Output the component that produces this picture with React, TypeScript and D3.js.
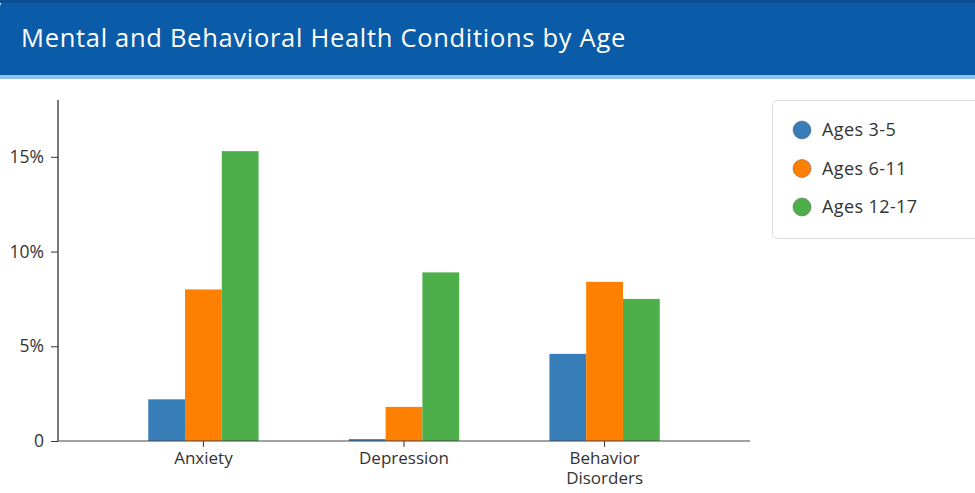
import React, { useEffect, useRef } from "react";
import * as d3 from "d3";

const categories = ["Anxiety", "Depression", "Behavior Disorders"];
const seriesNames = ["Ages 3-5", "Ages 6-11", "Ages 12-17"];
const ages3to5 = [2.2, 0.1, 4.6];
const ages6to11 = [8.0, 1.8, 8.4];
const ages12to17 = [15.3, 8.9, 7.5];
const yTicks = [0, 5, 10, 15];
const colors = ["#377eb8", "#ff7f00", "#4daf4a"];
const title = "Mental and Behavioral Health Conditions by Age";

export default function App() {
  const ref = useRef<SVGSVGElement>(null);
  useEffect(() => {
    const svg = d3.select(ref.current);
    svg.selectAll("*").remove();
    const W = 975, H = 493;
    const font = "'Open Sans', Lato, sans-serif";

    // header
    const hdr = svg.append("g");
    hdr.append("path")
      .attr("d", `M0,${8} Q0,0 8,0 L${W},0 L${W},75 L0,75 Z`)
      .attr("fill", "#0a5ba8");
    hdr.append("rect").attr("x", 0).attr("y", 0).attr("width", W).attr("height", 3).attr("fill", "#0b4f90");
    hdr.append("rect").attr("x", 0).attr("y", 75).attr("width", W).attr("height", 4).attr("fill", "#8fc1ec");
    hdr.append("text").attr("x", 21).attr("y", 47).attr("fill", "#fff")
      .attr("font-family", "'Open Sans', Lato, sans-serif").attr("font-size", 25.5).attr("font-weight", 400)
      .attr("letter-spacing", 0.7)
      .text(title);

    const left = 58, right = 750, top = 100, bottom = 441;
    const x0 = d3.scaleBand<string>().domain(categories).range([left, right]).paddingInner(0.45).paddingOuter(0.45);
    const x1 = d3.scaleBand<string>().domain(seriesNames).range([0, x0.bandwidth()]).padding(0);
    const y = d3.scaleLinear().domain([0, 18]).range([bottom, top]);
    const series = [ages3to5, ages6to11, ages12to17];

    const g = svg.append("g");
    categories.forEach((c, ci) => {
      seriesNames.forEach((s, si) => {
        const v = series[si][ci];
        g.append("rect")
          .attr("x", (x0(c) as number) + (x1(s) as number))
          .attr("y", y(v))
          .attr("width", x1.bandwidth())
          .attr("height", y(0) - y(v))
          .attr("fill", colors[si]);
      });
    });

    const yAxis = svg.append("g").attr("transform", `translate(${left},0)`)
      .call(d3.axisLeft(y).tickValues(yTicks).tickSizeOuter(0).tickSize(7).tickPadding(7)
        .tickFormat((d: any) => (d === 0 ? "0" : `${d}%`)));
    yAxis.select(".domain").remove();
    yAxis.selectAll("text").attr("font-family", font).attr("font-size", 17.5).attr("fill", "#333");
    yAxis.selectAll("line").attr("stroke", "#333");
    svg.append("line").attr("x1", left).attr("x2", left).attr("y1", top).attr("y2", bottom).attr("stroke", "#222").attr("stroke-width", 1.2);

    const xAxis = svg.append("g").attr("transform", `translate(0,${bottom})`)
      .call(d3.axisBottom(x0).tickSize(6).tickSizeOuter(0).tickPadding(5));
    xAxis.select(".domain").remove();
    xAxis.selectAll("line").attr("stroke", "#333");
    xAxis.selectAll("text").attr("font-family", font).attr("font-size", 17).attr("fill", "#333")
      .each(function (d: any) {
        const t = d3.select(this);
        const words = String(d).split(" ");
        if (words.length > 1) {
          t.text(null);
          words.forEach((w, i) => t.append("tspan").attr("x", 0).attr("dy", i === 0 ? "0.71em" : "1.15em").text(w));
        }
      });
    svg.append("line").attr("x1", left).attr("x2", right).attr("y1", bottom).attr("y2", bottom).attr("stroke", "#444").attr("stroke-width", 1.2);

    // legend
    const lg = svg.append("g");
    lg.append("rect").attr("x", 772.5).attr("y", 100.5).attr("width", 230).attr("height", 138).attr("rx", 5)
      .attr("fill", "#fff").attr("stroke", "#ddd");
    seriesNames.forEach((s, i) => {
      const cy = 130 + i * 38.5;
      lg.append("circle").attr("cx", 802).attr("cy", cy).attr("r", 9).attr("fill", colors[i]).attr("stroke", "#555").attr("stroke-width", 0.5);
      lg.append("text").attr("x", 822).attr("y", cy).attr("dy", "0.35em").attr("font-family", font)
        .attr("font-size", 18).attr("letter-spacing", 0.4).attr("fill", "#333").text(s);
    });
  }, []);
  return (
    <svg ref={ref} width={975} height={493} style={{ position: "absolute", left: 0, top: 0, display: "block" }} />
  );
}
